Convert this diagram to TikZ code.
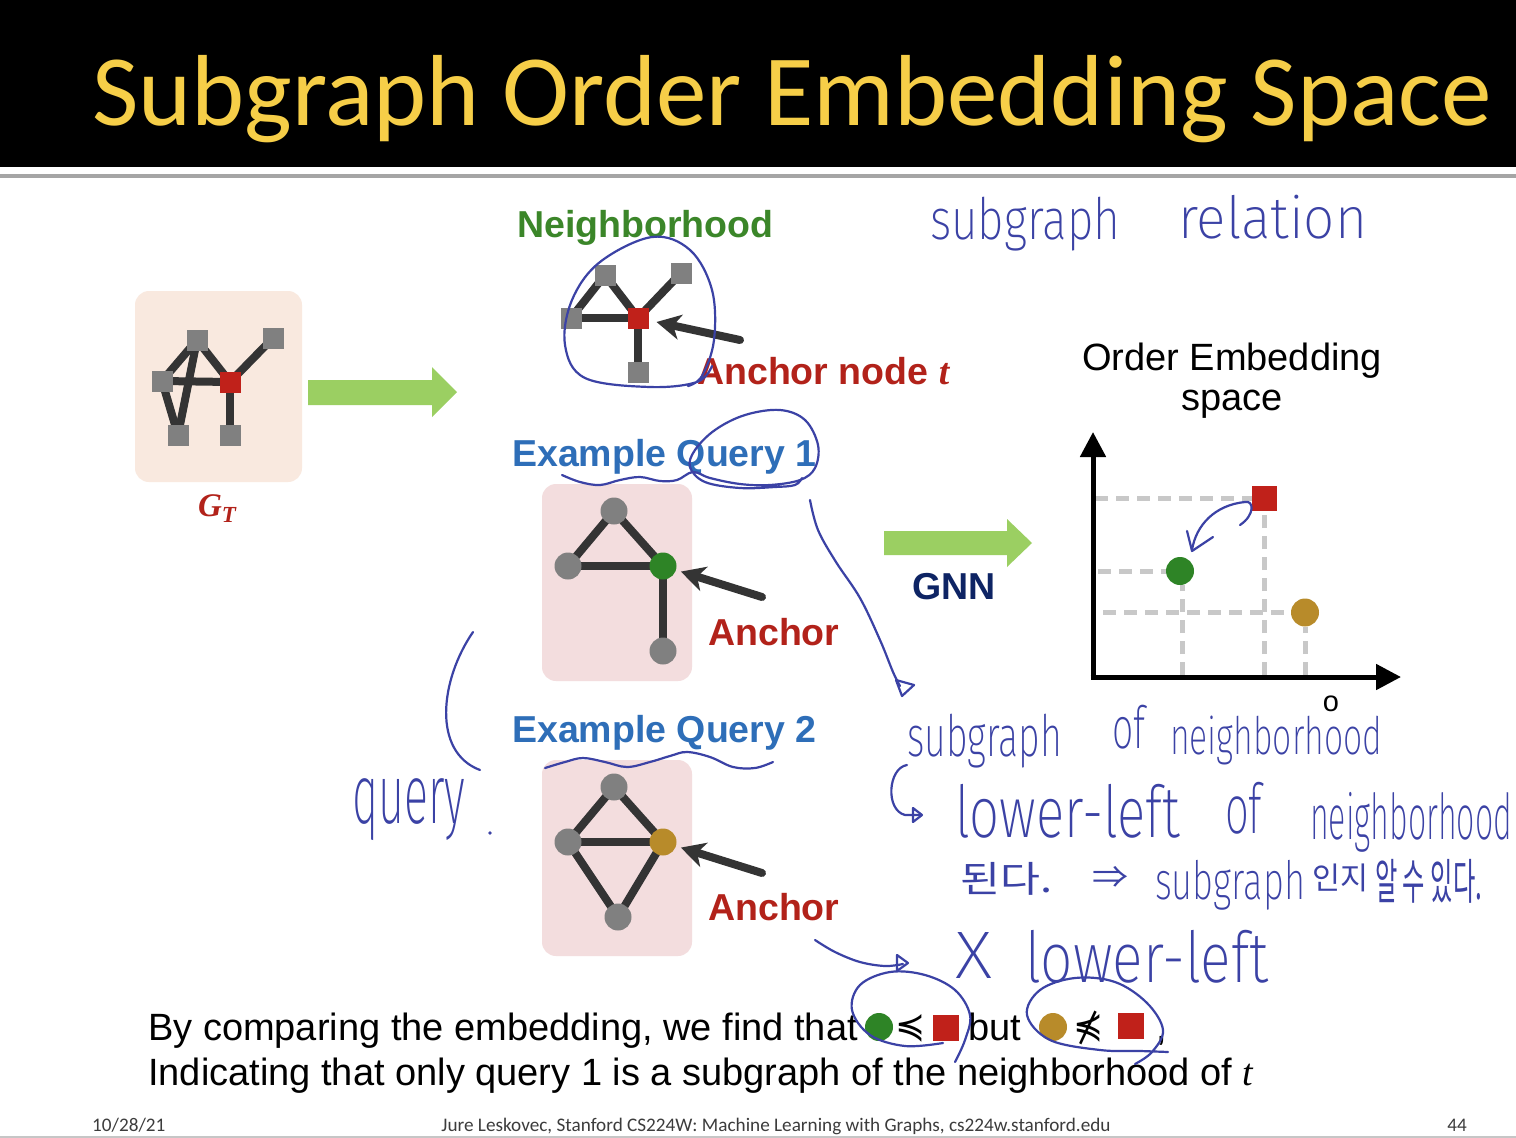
\documentclass[tikz,border=0pt]{standalone}
\usepackage{fontspec}
\usepackage{graphicx}
\setsansfont{Liberation Sans}
\newfontfamily\calibri{Carlito}
\newfontfamily\lserif{Liberation Serif}
\newfontfamily\handfont{Fira Sans}[UprightFont={* ExtraLight}]
\newfontfamily\krfont{Noto Sans CJK KR}
\newfontfamily\dejavu{DejaVu Sans}
\usetikzlibrary{arrows.meta}
\definecolor{titleyellow}{RGB}{246,206,72}
\definecolor{sepgray}{RGB}{165,165,165}
\definecolor{handblue}{RGB}{59,66,165}
\definecolor{gtfill}{RGB}{249,233,223}
\definecolor{qfill}{RGB}{243,221,222}
\definecolor{nodegray}{RGB}{128,128,128}
\definecolor{edgecol}{RGB}{52,52,52}
\definecolor{anchred}{RGB}{192,33,26}
\definecolor{textred}{RGB}{178,34,26}
\definecolor{nbgreen}{RGB}{59,134,41}
\definecolor{qblue}{RGB}{46,110,184}
\definecolor{gnnnavy}{RGB}{14,36,100}
\definecolor{ptgreen}{RGB}{46,132,38}
\definecolor{ptgold}{RGB}{184,139,42}
\definecolor{arrowgreen}{RGB}{155,207,98}
\definecolor{dashgray}{RGB}{200,200,200}
\definecolor{footgray}{RGB}{60,60,60}
\newcommand{\hw}[3]{\resizebox*{#1pt}{#2pt}{\handfont #3}}
\newcommand{\hk}[3]{\resizebox*{#1pt}{#2pt}{\krfont #3}}
\newcommand{\bigsf}{\sffamily\fontsize{38}{40}\selectfont}
\pgfdeclarelayer{back}
\pgfdeclarelayer{bg}
\pgfsetlayers{back,bg,main}
\begin{document}
\begin{tikzpicture}[x=1pt,y=-1pt,
  edge/.style={line width=8pt, draw=edgecol},
  sqnode/.style={rectangle, minimum size=21pt, fill=nodegray, inner sep=0},
  cnode/.style={circle, minimum size=27pt, fill=nodegray, inner sep=0},
  qbox/.style={rectangle, rounded corners=14pt, fill=qfill, minimum width=150pt, minimum height=197pt, inner sep=0},
  barrow/.style={line width=8pt, draw=edgecol, line cap=round, -{Stealth[length=24pt,width=25pt,inset=7pt]}},
  blockarrow/.style={fill=arrowgreen},
  dashline/.style={draw=dashgray, line width=5pt, dash pattern=on 13pt off 8pt},
  axis/.style={line width=5pt, draw=black, -{Triangle[length=25pt,width=25pt]}},
  hand/.style={draw=handblue, line width=2.2pt, line cap=round, line join=round},
  htext/.style={text=handblue, inner sep=0, anchor=north west},
  lbl/.style={inner sep=0, anchor=base west},
  foot/.style={inner sep=0, text=footgray, font=\calibri\fontsize{19.2}{21}\selectfont}
]
\useasboundingbox (0,0) rectangle (1516,1138);
\begin{pgfonlayer}{back}
\fill[white] (0,0) rectangle (1516,1138);
\end{pgfonlayer}
% title bar
\fill[black] (0,0) rectangle (1516,167);
\draw[line width=4pt, draw=sepgray] (0,175.5) -- (1516,175.5);
\node[lbl, text=titleyellow, font=\calibri\fontsize{101}{110}\selectfont] (title) at (92,125) {Subgraph Order Embedding Space};

% ---------- boxes ----------
\begin{pgfonlayer}{back}
\node[qbox, fill=gtfill, minimum width=167pt, minimum height=191pt] (gtbox) at (218.5,386.5) {};
\node[qbox] (q1box) at (617,582.5) {};
\node[qbox, minimum height=196pt] (q2box) at (617,858) {};
\end{pgfonlayer}

% ---------- G_T ----------
\node[sqnode] (g1) at (197,340) {};
\node[sqnode] (g2) at (273,338) {};
\node[sqnode] (g3) at (162,381) {};
\node[sqnode, fill=anchred] (g4) at (230,382) {};
\node[sqnode] (g5) at (178,435) {};
\node[sqnode] (g6) at (230,435) {};
\begin{pgfonlayer}{bg}
\draw[edge] (g1.center) -- (g3.center);
\draw[edge] (g1.center) -- (g4.center);
\draw[edge] (g3.center) -- (g4.center);
\draw[edge] (g3.center) -- (g5.center);
\draw[edge] (g1.center) -- (g5.center);
\draw[edge] (g4.center) -- (g2.center);
\draw[edge] (g4.center) -- (g6.center);
\end{pgfonlayer}
\node[inner sep=0, text=textred, font=\lserif\bfseries\itshape\fontsize{33}{35}\selectfont] (gtlab) at (217,509) {G\raisebox{-6pt}{\fontsize{23}{24}\selectfont T}};

% green arrow 1
\fill[blockarrow] (308,380) -- (432,380) -- (432,367) -- (457,392) -- (432,417) -- (432,405) -- (308,405) -- cycle;

% ---------- Neighborhood ----------
\node[lbl, text=nbgreen, font=\sffamily\bfseries\fontsize{37.5}{40}\selectfont] (nbt) at (517,237) {Neighborhood};
\node[sqnode] (n1) at (605,275) {};
\node[sqnode] (n2) at (681,273) {};
\node[sqnode] (n3) at (571,318) {};
\node[sqnode, fill=anchred] (n4) at (638,318) {};
\node[sqnode] (n5) at (638,372) {};
\begin{pgfonlayer}{bg}
\draw[edge] (n3.center) -- (n1.center);
\draw[edge] (n1.center) -- (n4.center);
\draw[edge] (n3.center) -- (n4.center);
\draw[edge] (n4.center) -- (n2.center);
\draw[edge] (n4.center) -- (n5.center);
\end{pgfonlayer}
\coordinate (na) at (740,340);
\draw[barrow, shorten >=8pt] (na) -- (n4);
\node[lbl, text=textred, font=\sffamily\bfseries\fontsize{37.5}{40}\selectfont] (ant) at (697,384) {Anchor node {\lserif\bfseries\itshape t}};

% ---------- Query 1 ----------
\node[lbl, text=qblue, font=\sffamily\bfseries\fontsize{37.5}{40}\selectfont] (q1t) at (512,466) {Example Query 1};
\node[cnode] (a1) at (614,511) {};
\node[cnode] (a2) at (568,566) {};
\node[cnode, fill=ptgreen] (a3) at (663,566) {};
\node[cnode] (a4) at (663,651) {};
\begin{pgfonlayer}{bg}
\draw[edge] (a1.center) -- (a2.center);
\draw[edge] (a1.center) -- (a3.center);
\draw[edge] (a2.center) -- (a3.center);
\draw[edge] (a3.center) -- (a4.center);
\end{pgfonlayer}
\coordinate (qa1) at (762,597);
\draw[barrow, shorten >=5pt] (qa1) -- (a3);
\node[lbl, text=textred, font=\sffamily\bfseries\fontsize{37.5}{40}\selectfont] (an1) at (708,645) {Anchor};

% ---------- Query 2 ----------
\node[lbl, text=qblue, font=\sffamily\bfseries\fontsize{37.5}{40}\selectfont] (q2t) at (512,742) {Example Query 2};
\node[cnode] (b1) at (614,787) {};
\node[cnode] (b2) at (568,842) {};
\node[cnode, fill=ptgold] (b3) at (663,842) {};
\node[cnode] (b4) at (618,917) {};
\begin{pgfonlayer}{bg}
\draw[edge] (b1.center) -- (b2.center);
\draw[edge] (b1.center) -- (b3.center);
\draw[edge] (b2.center) -- (b3.center);
\draw[edge] (b2.center) -- (b4.center);
\draw[edge] (b3.center) -- (b4.center);
\end{pgfonlayer}
\coordinate (qa2) at (762,873);
\draw[barrow, shorten >=5pt] (qa2) -- (b3);
\node[lbl, text=textred, font=\sffamily\bfseries\fontsize{37.5}{40}\selectfont] (an2) at (708,920) {Anchor};

% ---------- GNN ----------
\fill[blockarrow] (884,531) -- (1007,531) -- (1007,519) -- (1032,543) -- (1007,567) -- (1007,555) -- (884,555) -- cycle;
\node[lbl, text=gnnnavy, font=\sffamily\bfseries\fontsize{37.5}{40}\selectfont] (gnn) at (912,599) {GNN};

% ---------- Order embedding space ----------
\node[inner sep=0, anchor=base, font=\bigsf] (oe1) at (1232,370) {Order Embedding};
\node[inner sep=0, anchor=base, font=\bigsf] (oe2) at (1232,410) {space};
\coordinate (ytip) at (1093,432);
\coordinate (xtip) at (1401,677);
\coordinate (ybot) at (1093,679.5);
\coordinate (xleft) at (1090.5,677);
\node[rectangle, fill=anchred, minimum size=25pt, inner sep=0] (pr) at (1264.5,498.5) {};
\node[circle, fill=ptgreen, minimum size=28pt, inner sep=0] (pg) at (1180,571) {};
\node[circle, fill=ptgold, minimum size=28pt, inner sep=0] (py) at (1305,612.5) {};
\coordinate (pry) at (1095,498.5);
\coordinate (prx) at (1264.5,675);
\coordinate (pgy) at (1098,571);
\coordinate (pgx) at (1182,675);
\coordinate (pgxt) at (1182,585);
\coordinate (pyy) at (1103,612.5);
\coordinate (pyx) at (1305,675);
\begin{pgfonlayer}{bg}
\draw[dashline] (pry) -- (pr.west);
\draw[dashline] (prx) -- (pr.south);
\draw[dashline] (pgy) -- (pg.west);
\draw[dashline] (pgx) -- (pgxt);
\draw[dashline] (pyy) -- (py.west);
\draw[dashline] (pyx) -- (py.south);
\end{pgfonlayer}
\draw[axis] (ybot) -- (ytip);
\draw[axis] (xleft) -- (xtip);
\node[font=\sffamily\fontsize{29}{30}\selectfont, inner sep=0] (olab) at (1331,704) {o};

% ---------- bottom text ----------
\node[lbl, font=\bigsf] (bt1) at (148,1040) {By comparing the embedding, we find that};
\node[circle, fill=ptgreen, minimum size=28pt, inner sep=0] (c1) at (879,1027) {};
\node[inner sep=0, font=\dejavu\fontsize{36}{40}\selectfont] (rel1) at (911,1028) {≼};
\node[rectangle, fill=anchred, minimum size=26pt, inner sep=0] (s1) at (946,1028) {};
\node[lbl, font=\bigsf] (but) at (968,1040) {but};
\node[circle, fill=ptgold, minimum size=28pt, inner sep=0] (c2) at (1053,1027) {};
\node[inner sep=0, font=\dejavu\fontsize{36}{40}\selectfont] (rel2) at (1089,1028) {⋠};
\node[rectangle, fill=anchred, minimum size=26pt, inner sep=0] (s2) at (1131,1026) {};
\node[lbl, font=\bigsf] (comma) at (1156,1040) {,};
\node[lbl, font=\bigsf] (bt2) at (148,1085) {Indicating that only query 1 is a subgraph of the neighborhood of {\lserif\itshape t}};

% ---------- footer ----------
\node[foot, anchor=base west] (fdate) at (92,1131) {10/28/21};
\node[foot, anchor=base] (fmid) at (776,1131) {Jure Leskovec, Stanford CS224W: Machine Learning with Graphs, cs224w.stanford.edu};
\node[foot, anchor=base east] (fnum) at (1467,1131) {44};
\draw[line width=2pt, draw=gray!45] (0,1137) -- (1516,1137);

% ---------- handwriting ----------
\node[htext] (h1) at (930,197) {\hw{190}{54}{subgraph}};
\node[htext] (h2) at (1178,195) {\hw{189}{44}{relation}};
\draw[hand] plot[smooth, tension=0.6] coordinates {(712,366) (697,382) (650,387) (585,378) (565,345) (572,300) (600,262) (652,237) (690,250) (712,290) (714,340) (702,376) (688,386)};
\draw[hand] plot[smooth, tension=0.6] coordinates {(562,475) (580,482) (600,485) (620,480) (640,477) (660,481) (677,480) (693,472) (710,478) (740,484) (770,485) (800,480) (815,468) (818,445) (805,420) (780,410) (745,415) (715,430) (695,450) (690,467) (705,482) (740,488) (775,487) (795,485) (802,478)};
\draw[hand] plot[smooth, tension=0.6] coordinates {(810,500) (818,530) (836,562) (860,598) (880,640) (893,672) (900,686)};
\draw[hand] (896,680) -- (902,696) -- (914,685) -- cycle;
\draw[hand] plot[smooth, tension=0.6] coordinates {(545,768) (565,762) (583,758) (605,762) (627,767) (650,762) (670,756) (687,752) (710,757) (733,767) (755,768) (773,762)};
\draw[hand] (473,632) .. controls (440,680) and (432,752) .. (480,770);
\node[htext] (h3) at (352,778) {\hw{113}{62}{query}};
\fill[handblue] (490,833) circle (1.8pt);
\draw[hand] plot[smooth, tension=0.6] coordinates {(815,940) (835,952) (860,962) (885,966) (903,964)};
\draw[hand] (897,955) -- (908,963) -- (897,971) -- cycle;
\node[htext] (h4) at (907,714) {\hw{155}{54}{subgraph}};
\node[htext] (h5) at (1112,705) {\hw{33}{44}{of}};
\node[htext] (h6) at (1170,716) {\hw{212}{49}{neighborhood}};
\draw[hand] (907,765) .. controls (888,768) and (885,810) .. (905,815) -- (920,815);
\draw[hand] (913,808) -- (922,815) -- (913,822) -- cycle;
\node[htext] (h7) at (955,784) {\hw{225}{54}{lower-left}};
\node[htext] (h8) at (1225,782) {\hw{37}{52}{of}};
\node[htext] (h9) at (1310,792) {\hw{202}{60}{neighborhood}};
\node[htext] (h10) at (960,862) {\hk{92}{33}{된다.}};
\node[htext] (h11) at (1092,866) {\hk{36}{22}{⇒}};
\node[htext] (h12) at (1155,860) {\hw{150}{50}{subgraph}};
\node[htext] (h13) at (1312,864) {\hk{56}{28}{인지}};
\node[htext] (h14) at (1375,859) {\hk{107}{44}{알 수 있다.}};
\node[htext] (h15) at (955,932) {\hw{37}{46}{X}};
\node[htext] (h16) at (1025,930) {\hw{243}{53}{lower-left}};
\draw[hand] (1240,525) .. controls (1255,515) and (1254,500) .. (1245,502) .. controls (1215,505) and (1196,525) .. (1192,550);
\draw[hand] (1187,531) -- (1192,551) -- (1213,537);
\draw[hand] plot[smooth, tension=0.6] coordinates {(943,1043) (905,1046) (870,1035) (852,1010) (860,985) (890,972) (925,975) (955,990) (970,1015) (965,1040) (955,1062)};
\draw[hand] plot[smooth, tension=0.6] coordinates {(1168,1052) (1140,1051) (1100,1050) (1050,1040) (1027,1015) (1040,990) (1075,978) (1115,982) (1147,1003) (1163,1030) (1152,1052) (1135,1064)};
\end{tikzpicture}
\end{document}
